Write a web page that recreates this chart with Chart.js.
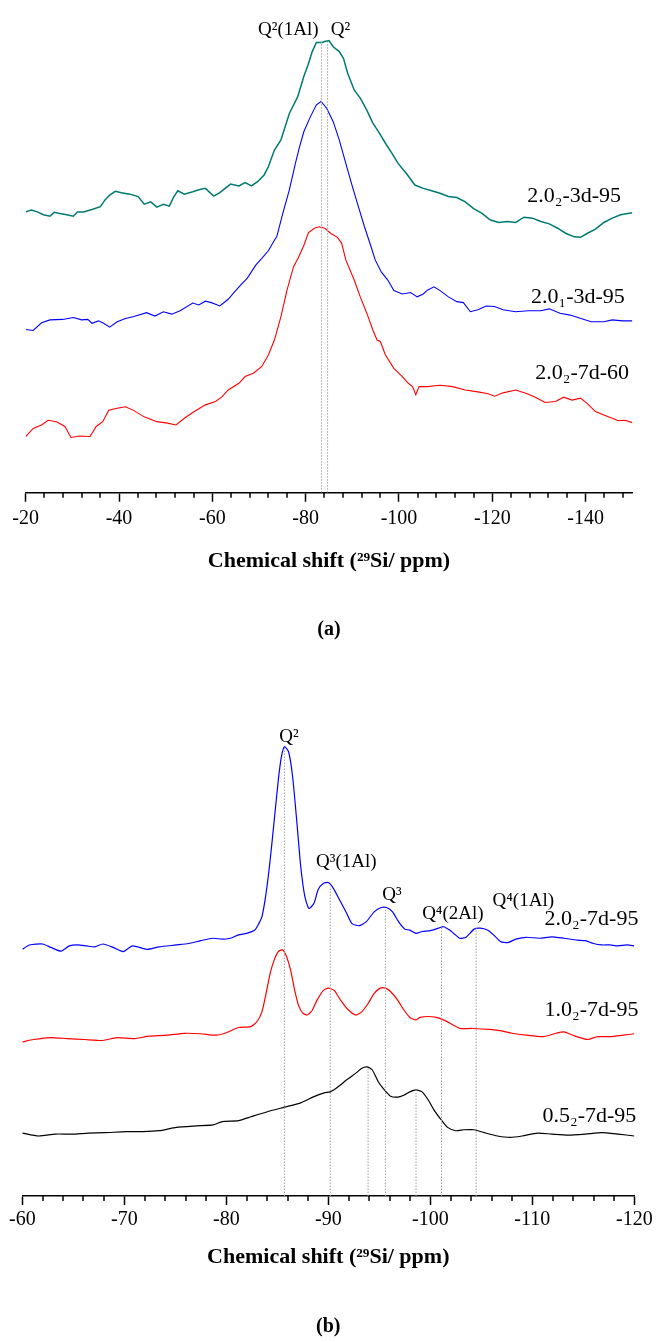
<!DOCTYPE html>
<html><head><meta charset="utf-8">
<script src="https://cdn.jsdelivr.net/npm/chart.js@4.4.1/dist/chart.umd.min.js"></script>
<style>
html,body{margin:0;padding:0;background:#fff;}
body{width:657px;height:1343px;position:relative;overflow:hidden;}
canvas{position:absolute;left:0;}
#ca{top:0;} #cb{top:680px;}
</style></head><body>
<canvas id="ca" width="657" height="660"></canvas>
<canvas id="cb" width="657" height="663"></canvas>
<script>
// ---------- Panel (a): [chemical shift ppm, offset intensity a.u.] ----------
const a_ticks = [-20, -40, -60, -80, -100, -120, -140];
const a_range = [-150, -20];
const a_teal = [[-20.0,58.5],[-21.2,58.9],[-22.5,58.5],[-23.8,57.9],[-25.2,57.6],[-26.1,58.4],[-27.0,58.2],[-28.8,57.9],[-30.2,57.6],[-31.1,58.5],[-32.4,58.5],[-34.2,59.0],[-36.0,59.6],[-37.0,61.0],[-38.0,62.0],[-39.2,62.8],[-40.5,62.5],[-42.3,62.2],[-44.1,61.7],[-45.4,60.1],[-46.8,60.6],[-48.1,59.5],[-49.5,60.1],[-50.8,59.7],[-51.7,61.6],[-52.6,62.9],[-54.0,62.2],[-55.8,62.7],[-57.1,63.1],[-58.5,63.4],[-60.3,61.8],[-61.6,62.5],[-63.9,64.3],[-65.7,63.9],[-67.0,64.6],[-68.4,63.9],[-69.7,64.8],[-71.1,66.2],[-72.0,67.9],[-73.3,71.4],[-74.7,73.5],[-76.5,79.0],[-78.3,82.5],[-79.6,86.7],[-80.5,89.1],[-81.4,91.9],[-82.3,93.8],[-83.5,93.8],[-84.1,94.0],[-85.0,94.2],[-85.9,92.9],[-87.2,91.9],[-88.1,90.5],[-89.0,87.4],[-90.4,83.9],[-91.7,82.2],[-93.1,79.7],[-94.4,77.0],[-95.8,74.9],[-97.1,72.8],[-98.5,70.7],[-99.8,68.6],[-101.6,66.5],[-103.4,64.1],[-105.2,63.4],[-107.0,62.9],[-108.8,62.4],[-110.6,61.7],[-112.4,61.5],[-114.2,60.6],[-116.0,59.2],[-117.8,58.2],[-119.6,56.8],[-121.4,56.3],[-123.2,56.5],[-125.0,56.3],[-126.8,57.4],[-128.6,57.2],[-130.4,56.5],[-132.2,56.0],[-134.0,55.1],[-135.8,54.0],[-137.6,53.3],[-138.9,53.2],[-140.3,54.0],[-142.1,54.9],[-143.9,56.3],[-145.7,57.2],[-147.5,57.9],[-150.0,58.3]];
const a_blue = [[-20.0,34.0],[-21.6,33.8],[-23.4,35.4],[-25.2,36.0],[-27.9,36.1],[-30.2,36.5],[-32.0,36.0],[-33.3,36.1],[-34.2,35.3],[-35.6,35.8],[-36.7,35.3],[-38.0,34.5],[-39.6,35.6],[-41.4,36.3],[-43.2,36.7],[-45.9,37.5],[-47.7,36.8],[-49.5,37.7],[-51.3,37.2],[-53.1,37.9],[-55.8,39.5],[-57.1,39.1],[-58.5,39.9],[-59.8,39.6],[-61.6,38.9],[-63.4,40.3],[-64.8,41.9],[-66.1,43.3],[-67.5,44.7],[-69.3,47.4],[-70.6,48.8],[-72.0,50.4],[-73.3,52.6],[-73.8,53.3],[-75.1,58.2],[-76.5,63.1],[-77.8,68.6],[-78.7,72.1],[-79.6,75.2],[-81.0,78.3],[-82.3,80.8],[-83.3,81.5],[-84.5,80.1],[-85.9,77.3],[-87.2,73.5],[-88.6,68.6],[-90.0,63.8],[-91.3,59.6],[-92.6,55.4],[-94.0,51.3],[-94.9,48.5],[-96.2,46.0],[-97.6,44.3],[-98.9,42.1],[-100.7,41.4],[-102.5,41.7],[-103.9,40.8],[-105.2,41.4],[-106.1,42.2],[-107.5,42.9],[-108.8,42.1],[-110.6,40.8],[-112.4,39.8],[-113.8,39.6],[-115.3,37.7],[-116.9,38.1],[-118.7,38.9],[-120.5,38.8],[-122.3,38.1],[-125.0,37.7],[-127.7,37.9],[-130.4,37.9],[-132.2,38.3],[-134.5,37.4],[-136.7,37.0],[-139.0,36.3],[-141.2,35.6],[-143.9,35.6],[-145.7,36.0],[-147.9,35.8],[-150.0,35.8]];
const a_red = [[-20.0,11.7],[-21.6,13.4],[-23.4,14.1],[-24.8,15.1],[-26.6,14.8],[-28.4,13.8],[-29.7,11.5],[-31.5,11.8],[-33.8,11.7],[-35.1,13.8],[-36.5,14.8],[-37.8,17.2],[-39.6,17.6],[-41.4,17.9],[-43.2,17.1],[-45.4,15.8],[-48.1,14.8],[-50.4,14.5],[-52.2,14.1],[-54.0,15.5],[-55.8,16.7],[-58.5,18.3],[-60.7,19.0],[-62.1,20.0],[-63.4,21.4],[-65.7,22.8],[-67.0,24.2],[-68.8,24.9],[-70.6,26.3],[-72.0,28.7],[-73.3,31.8],[-74.7,36.7],[-76.0,42.2],[-77.4,47.1],[-78.4,48.9],[-79.6,51.5],[-80.6,54.2],[-81.9,55.1],[-82.9,55.4],[-84.1,55.1],[-85.4,54.0],[-86.8,53.2],[-87.7,52.0],[-88.6,48.5],[-90.4,44.3],[-91.7,40.8],[-93.1,37.4],[-94.4,33.9],[-95.3,31.8],[-96.0,31.5],[-97.1,28.7],[-98.9,25.9],[-100.7,24.2],[-102.0,22.8],[-102.9,22.1],[-103.6,20.4],[-104.3,22.1],[-106.1,22.1],[-108.8,22.4],[-111.5,22.1],[-114.2,21.4],[-116.9,21.0],[-119.1,20.6],[-120.5,20.1],[-122.3,20.8],[-125.0,21.4],[-127.2,20.7],[-129.0,20.0],[-131.3,18.8],[-133.5,19.0],[-135.3,19.9],[-137.1,19.3],[-138.9,19.7],[-140.3,18.6],[-142.1,16.9],[-143.9,16.2],[-145.7,15.5],[-147.0,15.0],[-148.4,15.1],[-150.0,14.6]];
const a_markers = [[-83.4, 93.9], [-84.7, 93.9]];   // [ppm, top intensity]

// ---------- Panel (b) ----------
const b_ticks = [-60, -70, -80, -90, -100, -110, -120];
const b_range = [-120, -60];
const b_blue = [[-60.0,51.4],[-60.7,52.3],[-62.0,52.5],[-62.8,51.8],[-63.8,51.0],[-64.6,52.1],[-65.4,52.3],[-66.3,52.1],[-67.1,51.9],[-67.9,52.5],[-68.9,51.8],[-69.9,50.9],[-70.8,52.1],[-72.2,51.4],[-73.4,51.9],[-75.1,52.3],[-76.3,52.6],[-77.5,53.2],[-78.7,53.7],[-79.6,53.5],[-80.4,53.7],[-81.2,54.4],[-82.0,54.7],[-82.8,55.4],[-83.2,56.8],[-83.5,58.2],[-83.9,63.1],[-84.3,70.0],[-84.7,78.3],[-85.1,86.7],[-85.4,91.5],[-85.7,93.6],[-86.1,92.6],[-86.5,87.4],[-86.9,78.3],[-87.3,68.6],[-87.7,62.4],[-88.1,59.9],[-88.6,61.0],[-89.0,63.8],[-89.5,65.1],[-90.0,65.3],[-90.5,64.1],[-91.1,61.7],[-91.8,58.9],[-92.3,56.8],[-93.0,56.3],[-93.7,57.1],[-94.5,59.2],[-95.2,60.1],[-95.7,60.1],[-96.3,59.2],[-96.9,57.1],[-97.5,55.6],[-98.0,55.4],[-98.6,54.7],[-99.2,55.1],[-100.0,55.3],[-100.8,55.8],[-101.3,56.1],[-101.9,55.4],[-102.3,54.7],[-102.9,53.7],[-103.5,53.9],[-104.3,55.6],[-104.9,55.8],[-105.6,55.4],[-106.2,54.4],[-106.9,53.0],[-107.6,52.8],[-108.4,53.5],[-109.4,53.9],[-110.7,53.7],[-111.9,54.0],[-113.1,53.7],[-114.4,53.3],[-115.2,53.2],[-116.0,52.6],[-116.8,52.3],[-117.6,52.3],[-118.4,52.1],[-119.3,52.3],[-120.0,52.1]];
const b_red = [[-60.0,32.1],[-61.1,32.6],[-62.8,33.0],[-64.4,32.8],[-66.1,32.6],[-67.9,32.4],[-69.3,33.0],[-71.0,32.8],[-72.4,33.3],[-74.2,33.5],[-75.9,33.9],[-77.5,33.8],[-79.0,33.5],[-80.0,34.0],[-81.2,35.1],[-82.4,35.3],[-83.0,36.3],[-83.5,38.4],[-83.9,42.2],[-84.3,46.4],[-84.7,49.2],[-85.1,50.9],[-85.5,51.3],[-85.9,49.9],[-86.3,47.1],[-86.7,42.9],[-87.1,39.6],[-87.5,38.1],[-87.9,37.7],[-88.4,38.6],[-88.9,40.8],[-89.5,42.8],[-90.0,43.3],[-90.6,42.8],[-91.2,40.8],[-91.9,38.9],[-92.7,37.7],[-93.3,38.4],[-93.9,40.1],[-94.5,42.2],[-95.1,43.3],[-95.6,43.3],[-96.1,42.6],[-96.8,40.8],[-97.4,38.8],[-98.0,37.2],[-98.6,36.7],[-99.0,37.2],[-99.8,37.4],[-100.6,37.2],[-101.3,36.7],[-102.1,35.8],[-102.9,34.9],[-104.1,34.9],[-105.8,34.7],[-107.0,34.4],[-108.0,33.9],[-109.4,33.5],[-111.1,33.2],[-112.3,33.9],[-113.1,34.2],[-114.2,33.3],[-115.4,32.6],[-116.4,33.2],[-117.6,33.2],[-118.9,33.5],[-120.0,33.8]];
const b_black = [[-60.0,13.1],[-61.6,12.5],[-63.2,12.9],[-64.8,12.9],[-66.5,13.1],[-68.1,13.2],[-70.2,13.4],[-71.8,13.4],[-73.4,13.6],[-75.1,14.3],[-77.1,14.6],[-78.7,14.8],[-79.6,15.5],[-81.2,15.7],[-82.4,16.5],[-84.1,17.6],[-85.7,18.5],[-87.3,19.4],[-88.6,20.7],[-89.6,21.5],[-90.2,21.7],[-91.0,22.8],[-91.8,24.2],[-92.7,25.6],[-93.3,26.6],[-93.8,26.9],[-94.3,26.3],[-94.9,23.8],[-95.5,22.1],[-96.1,20.8],[-96.8,20.6],[-97.4,21.0],[-98.0,21.7],[-98.6,22.1],[-99.2,21.7],[-99.8,20.0],[-100.4,17.8],[-101.1,15.8],[-101.7,14.3],[-102.5,13.6],[-103.3,13.8],[-104.3,13.8],[-105.3,13.2],[-106.6,12.5],[-107.8,12.2],[-109.0,12.5],[-110.5,13.1],[-111.9,12.9],[-113.5,12.7],[-115.2,12.9],[-116.8,13.2],[-118.4,12.9],[-120.0,12.5]];
const b_markers = [[-85.7,93.5],[-90.2,64.4],[-93.9,26.9],[-95.6,59.6],[-98.6,22.1],[-101.1,56.1],[-104.5,55.8]];

// ---------- Text labels: [text, ppm, intensity, align, size] ----------
const a_labels = [
  ['Q²(1Al)', -69.8, 95.4, 'left', 19],
  ['Q²', -85.4, 95.4, 'left', 19],
  ['2.0₂-3d-95', -147.6, 60.5, 'right', 22],
  ['2.0₁-3d-95', -148.4, 39.5, 'right', 22],
  ['2.0₂-7d-60', -149.3, 23.7, 'right', 22]
];
const b_labels = [
  ['Q²', -85.2, 94.6, 'left', 19],
  ['Q³(1Al)', -88.8, 68.5, 'left', 19],
  ['Q³', -95.3, 61.7, 'left', 19],
  ['Q⁴(2Al)', -99.2, 57.7, 'left', 19],
  ['Q⁴(1Al)', -106.1, 60.4, 'left', 19],
  ['2.0₂-7d-95', -120.4, 56.5, 'right', 22],
  ['1.0₂-7d-95', -120.4, 37.4, 'right', 22],
  ['0.5₂-7d-95', -120.2, 15.5, 'right', 22]
];
const axisTitle = 'Chemical shift (²⁹Si/ ppm)';

const FONT = "'Liberation Serif', 'Times New Roman', serif";
Chart.defaults.font.family = FONT;
Chart.defaults.color = '#000';

const annotate = {
  id: 'annotate',
  afterDraw(chart, args, opts) {
    const {ctx, chartArea} = chart;
    const x = chart.scales.x, y = chart.scales.y;
    ctx.save();
    ctx.strokeStyle = '#000';
    ctx.lineWidth = 1.5;
    const yb = chartArea.bottom;
    (opts.minor || []).forEach(v => {
      const px = Math.round(x.getPixelForValue(v));
      ctx.beginPath(); ctx.moveTo(px, yb); ctx.lineTo(px, yb + 5); ctx.stroke();
    });
    ctx.fillStyle = '#000';
    ctx.textBaseline = 'alphabetic';
    (opts.labels || []).forEach(l => {
      ctx.font = l[4] + 'px ' + FONT;
      ctx.textAlign = l[3];
      ctx.fillText(l[0], x.getPixelForValue(l[1]), y.getPixelForValue(l[2]));
    });
    ctx.restore();
  }
};

function line(data, color, width, tension) {
  return { data: data.map(p => ({x: p[0], y: p[1]})), borderColor: color, borderWidth: width,
           showLine: true, pointRadius: 0, tension: tension, fill: false };
}
function marker(m) {
  return { data: [{x: m[0], y: 0}, {x: m[0], y: m[1]}], borderColor: '#a0a0a0', borderWidth: 1,
           borderDash: [1.5, 1.5], showLine: true, pointRadius: 0, fill: false };
}

function build(id, cfg) {
  new Chart(document.getElementById(id), {
    type: 'scatter',
    data: { datasets: cfg.markers.map(marker).concat(cfg.series) },
    options: {
      responsive: false, animation: false, events: [],
      layout: { padding: cfg.pad },
      plugins: {
        legend: { display: false }, tooltip: { enabled: false },
        title: { display: true, position: 'bottom', text: cfg.caption, color: '#000',
                 font: { family: FONT, size: 20, weight: 'bold' }, padding: cfg.capPad },
        annotate: { labels: cfg.labels, minor: cfg.minor }
      },
      scales: {
        x: {
          type: 'linear', reverse: true, min: cfg.range[0], max: cfg.range[1],
          afterBuildTicks: s => { s.ticks = cfg.ticks.map(v => ({value: v})); },
          afterFit: s => { s.height = cfg.axisH; },
          grid: { drawOnChartArea: false, drawTicks: true, tickLength: 9, tickColor: '#000', tickWidth: 1.5 },
          border: { display: true, color: '#000', width: 1.5 },
          ticks: { color: '#000', font: { size: 20 }, padding: cfg.tickPad, maxRotation: 0, autoSkip: false,
                   callback: v => String(v) },
          title: { display: true, text: axisTitle, color: '#000', font: { size: 22, weight: 'bold' },
                   padding: { top: 0, bottom: cfg.titlePad } }
        },
        y: { display: false, min: 0, max: 100 }
      }
    },
    plugins: [annotate]
  });
}

const a_minor = [];
for (let v = -24; v >= -148; v -= 4) if (v % 20 !== 0) a_minor.push(v);
const b_minor = [];
for (let v = -62; v >= -118; v -= 2) if (v % 10 !== 0) b_minor.push(v);

build('ca', {
  range: a_range, ticks: a_ticks, minor: a_minor, labels: a_labels, markers: a_markers,
  series: [line(a_teal, '#007a70', 1.5, 0), line(a_blue, '#0000ff', 1.1, 0), line(a_red, '#ff0000', 1.1, 0)],
  pad: { left: 25.7, right: 24.7, top: 12.7, bottom: 0 },
  caption: '(a)', capPad: { top: 18, bottom: 18 }, axisH: 107.3, tickPad: 4.6, titlePad: 25.8
});
build('cb', {
  range: b_range, ticks: b_ticks, minor: b_minor, labels: b_labels, markers: b_markers,
  series: [line(b_blue, '#0000ff', 1.2, 0.2), line(b_red, '#ff0000', 1.2, 0.2), line(b_black, '#000000', 1.2, 0.2)],
  pad: { left: 22.3, right: 22.7, top: 36, bottom: 0 },
  caption: '(b)', capPad: { top: 18, bottom: 4.3 }, axisH: 100.7, tickPad: 3, titlePad: 26.5
});
</script></body></html>
